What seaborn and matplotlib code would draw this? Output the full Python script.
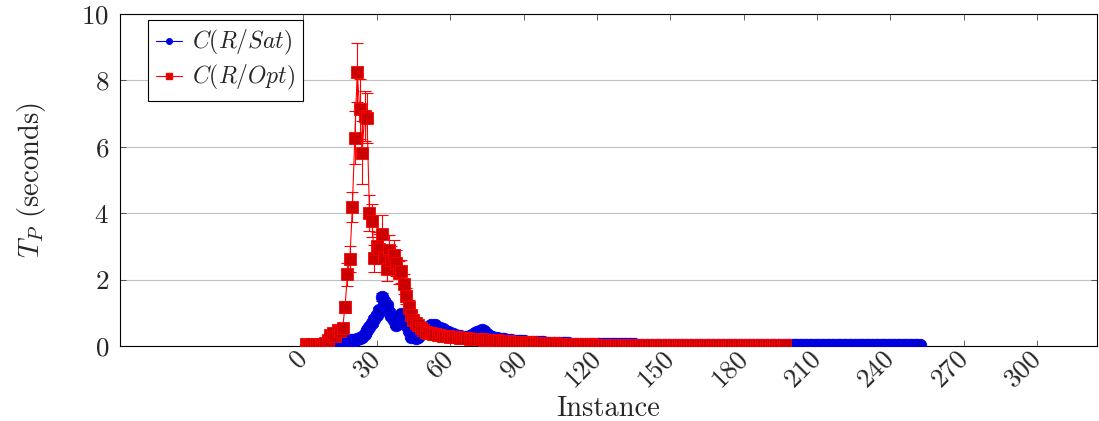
import numpy as np
import seaborn as sns
from matplotlib import pyplot as plt
from matplotlib.lines import Line2D

# T_P (seconds) per instance, C(R/Opt): instances 1..197
red_t = [
    0.05, 0.04, 0.04, 0.05, 0.04, 0.05, 0.05, 0.06, 0.10, 0.18,
    0.33, 0.40, 0.30, 0.48, 0.45, 0.53, 1.18, 2.16, 2.62, 4.18,
    6.27, 8.24, 7.14, 5.83, 6.93, 6.86, 4.01, 3.77, 2.64, 3.00,
    2.92, 3.39, 2.64, 2.31, 2.89, 2.60, 2.74, 2.50, 2.21, 2.25,
    1.86, 1.51, 1.18, 0.93, 0.78, 0.70, 0.63, 0.55, 0.48, 0.43,
    0.40, 0.38, 0.36, 0.35, 0.33, 0.32, 0.31, 0.30, 0.29, 0.28,
    0.27, 0.26, 0.26, 0.25, 0.24, 0.24, 0.23, 0.22, 0.22, 0.21,
    0.21, 0.20, 0.20, 0.19, 0.19, 0.18, 0.18, 0.17, 0.17, 0.16,
    0.15, 0.15, 0.14, 0.14, 0.13, 0.13, 0.13, 0.12, 0.12, 0.12,
    0.11, 0.11, 0.11, 0.10, 0.10, 0.10, 0.09, 0.09, 0.09, 0.08,
    0.08, 0.08, 0.08, 0.07, 0.07, 0.07, 0.07, 0.06, 0.06, 0.06,
    0.06, 0.06, 0.05, 0.05, 0.05, 0.05, 0.05, 0.05, 0.04, 0.04,
    0.04, 0.04, 0.04, 0.04, 0.04, 0.04, 0.04, 0.04, 0.04, 0.04,
    0.04, 0.04, 0.04, 0.03, 0.03, 0.03, 0.03, 0.03, 0.03, 0.03,
    0.03, 0.03, 0.03, 0.03, 0.03, 0.03, 0.03, 0.03, 0.03, 0.03,
    0.03, 0.03, 0.03, 0.03, 0.03, 0.03, 0.03, 0.03, 0.03, 0.03,
    0.03, 0.03, 0.03, 0.03, 0.03, 0.02, 0.02, 0.02, 0.02, 0.02,
    0.02, 0.02, 0.02, 0.02, 0.02, 0.02, 0.02, 0.02, 0.02, 0.02,
    0.02, 0.02, 0.02, 0.02, 0.02, 0.02, 0.02, 0.02, 0.02, 0.02,
    0.02, 0.02, 0.02, 0.02, 0.02, 0.02, 0.02,
]
red_err = [
    0.01, 0.01, 0.01, 0.01, 0.01, 0.01, 0.01, 0.02, 0.03, 0.04,
    0.06, 0.07, 0.06, 0.08, 0.08, 0.09, 0.18, 0.35, 0.40, 0.45,
    0.80, 0.90, 0.90, 0.95, 0.75, 0.75, 0.55, 0.50, 0.40, 0.45,
    0.45, 0.55, 0.40, 0.35, 0.45, 0.40, 0.45, 0.40, 0.35, 0.35,
    0.30, 0.25, 0.20, 0.15, 0.12, 0.10, 0.09, 0.08, 0.07, 0.06,
    0.05, 0.05, 0.05, 0.04, 0.04, 0.04, 0.04, 0.04, 0.03, 0.03,
    0.03, 0.03, 0.03, 0.03, 0.03, 0.03, 0.03, 0.03, 0.02, 0.02,
    0.02, 0.02, 0.02, 0.02, 0.02, 0.02, 0.02, 0.02, 0.02, 0.02,
    0.02, 0.02, 0.02, 0.02, 0.02, 0.02, 0.02, 0.02, 0.02, 0.02,
    0.01, 0.01, 0.01, 0.01, 0.01, 0.01, 0.01, 0.01, 0.01, 0.01,
    0.01, 0.01, 0.01, 0.01, 0.01, 0.01, 0.01, 0.01, 0.01, 0.01,
    0.01, 0.01, 0.01, 0.01, 0.01, 0.01, 0.01, 0.01, 0.01, 0.01,
    0.01, 0.01, 0.01, 0.01, 0.01, 0.01, 0.01, 0.01, 0.01, 0.01,
    0.01, 0.01, 0.01, 0.01, 0.01, 0.01, 0.01, 0.01, 0.01, 0.01,
    0.01, 0.01, 0.01, 0.01, 0.01, 0.01, 0.01, 0.01, 0.01, 0.01,
    0.01, 0.01, 0.01, 0.01, 0.01, 0.01, 0.01, 0.01, 0.01, 0.01,
    0.01, 0.01, 0.01, 0.01, 0.01, 0.01, 0.01, 0.01, 0.01, 0.01,
    0.01, 0.01, 0.01, 0.01, 0.01, 0.01, 0.01, 0.01, 0.01, 0.01,
    0.01, 0.01, 0.01, 0.01, 0.01, 0.01, 0.01, 0.01, 0.01, 0.01,
    0.01, 0.01, 0.01, 0.01, 0.01, 0.01, 0.01,
]

# T_P (seconds) per instance, C(R/Sat): instances 1..252
blue_t = [
    0.02, 0.02, 0.03, 0.03, 0.03, 0.04, 0.04, 0.05, 0.06, 0.07,
    0.08, 0.10, 0.13, 0.12, 0.14, 0.15, 0.16, 0.18, 0.17, 0.18,
    0.18, 0.20, 0.24, 0.28, 0.35, 0.48, 0.58, 0.68, 0.83, 0.95,
    1.08, 1.49, 1.35, 1.23, 1.03, 0.90, 0.78, 0.63, 0.88, 0.98,
    0.78, 0.62, 0.45, 0.28, 0.30, 0.25, 0.28, 0.35, 0.45, 0.52,
    0.58, 0.63, 0.60, 0.63, 0.55, 0.53, 0.50, 0.45, 0.43, 0.38,
    0.35, 0.33, 0.30, 0.30, 0.28, 0.27, 0.27, 0.30, 0.33, 0.38,
    0.42, 0.46, 0.48, 0.45, 0.35, 0.30, 0.27, 0.25, 0.24, 0.22,
    0.21, 0.20, 0.19, 0.18, 0.17, 0.16, 0.16, 0.15, 0.14, 0.14,
    0.13, 0.13, 0.12, 0.12, 0.12, 0.11, 0.11, 0.11, 0.10, 0.10,
    0.10, 0.09, 0.09, 0.09, 0.08, 0.08, 0.08, 0.08, 0.07, 0.07,
    0.07, 0.07, 0.07, 0.06, 0.06, 0.06, 0.06, 0.06, 0.06, 0.05,
    0.05, 0.05, 0.05, 0.05, 0.05, 0.05, 0.05, 0.05, 0.05, 0.05,
    0.05, 0.05, 0.05, 0.05, 0.05, 0.04, 0.04, 0.04, 0.04, 0.04,
    0.04, 0.04, 0.04, 0.04, 0.04, 0.04, 0.04, 0.04, 0.04, 0.04,
    0.04, 0.04, 0.04, 0.04, 0.04, 0.04, 0.04, 0.04, 0.04, 0.04,
    0.04, 0.04, 0.04, 0.04, 0.04, 0.03, 0.03, 0.03, 0.03, 0.03,
    0.03, 0.03, 0.03, 0.03, 0.03, 0.03, 0.03, 0.03, 0.03, 0.03,
    0.03, 0.03, 0.03, 0.03, 0.03, 0.03, 0.03, 0.03, 0.03, 0.03,
    0.03, 0.03, 0.03, 0.03, 0.03, 0.03, 0.03, 0.03, 0.03, 0.03,
    0.03, 0.03, 0.03, 0.03, 0.03, 0.03, 0.03, 0.03, 0.03, 0.03,
    0.03, 0.03, 0.03, 0.03, 0.03, 0.03, 0.03, 0.03, 0.03, 0.03,
    0.02, 0.02, 0.02, 0.02, 0.02, 0.02, 0.02, 0.02, 0.02, 0.02,
    0.02, 0.02, 0.02, 0.02, 0.02, 0.02, 0.02, 0.02, 0.02, 0.02,
    0.02, 0.02, 0.02, 0.02, 0.02, 0.02, 0.02, 0.02, 0.02, 0.02,
    0.02, 0.02,
]
blue_err = [
    0.01, 0.01, 0.01, 0.01, 0.01, 0.01, 0.01, 0.01, 0.01, 0.01,
    0.01, 0.01, 0.02, 0.02, 0.02, 0.02, 0.02, 0.03, 0.03, 0.03,
    0.03, 0.03, 0.04, 0.04, 0.05, 0.06, 0.06, 0.07, 0.08, 0.08,
    0.09, 0.12, 0.10, 0.10, 0.09, 0.08, 0.07, 0.06, 0.08, 0.08,
    0.07, 0.06, 0.05, 0.04, 0.04, 0.04, 0.04, 0.04, 0.05, 0.05,
    0.05, 0.06, 0.05, 0.05, 0.05, 0.05, 0.04, 0.04, 0.04, 0.04,
    0.04, 0.03, 0.03, 0.03, 0.03, 0.03, 0.03, 0.03, 0.03, 0.04,
    0.04, 0.05, 0.05, 0.04, 0.04, 0.03, 0.03, 0.02, 0.02, 0.02,
    0.02, 0.02, 0.02, 0.02, 0.02, 0.02, 0.02, 0.02, 0.02, 0.02,
    0.01, 0.01, 0.01, 0.01, 0.01, 0.01, 0.01, 0.01, 0.01, 0.01,
    0.01, 0.01, 0.01, 0.01, 0.01, 0.01, 0.01, 0.01, 0.01, 0.01,
    0.01, 0.01, 0.01, 0.01, 0.01, 0.01, 0.01, 0.01, 0.01, 0.01,
    0.01, 0.01, 0.01, 0.01, 0.01, 0.01, 0.01, 0.01, 0.01, 0.01,
    0.01, 0.01, 0.01, 0.01, 0.01, 0.01, 0.01, 0.01, 0.01, 0.01,
    0.01, 0.01, 0.01, 0.01, 0.01, 0.01, 0.01, 0.01, 0.01, 0.01,
    0.01, 0.01, 0.01, 0.01, 0.01, 0.01, 0.01, 0.01, 0.01, 0.01,
    0.01, 0.01, 0.01, 0.01, 0.01, 0.01, 0.01, 0.01, 0.01, 0.01,
    0.01, 0.01, 0.01, 0.01, 0.01, 0.01, 0.01, 0.01, 0.01, 0.01,
    0.01, 0.01, 0.01, 0.01, 0.01, 0.01, 0.01, 0.01, 0.01, 0.01,
    0.01, 0.01, 0.01, 0.01, 0.01, 0.01, 0.01, 0.01, 0.01, 0.01,
    0.01, 0.01, 0.01, 0.01, 0.01, 0.01, 0.01, 0.01, 0.01, 0.01,
    0.01, 0.01, 0.01, 0.01, 0.01, 0.01, 0.01, 0.01, 0.01, 0.01,
    0.01, 0.01, 0.01, 0.01, 0.01, 0.01, 0.01, 0.01, 0.01, 0.01,
    0.01, 0.01, 0.01, 0.01, 0.01, 0.01, 0.01, 0.01, 0.01, 0.01,
    0.01, 0.01, 0.01, 0.01, 0.01, 0.01, 0.01, 0.01, 0.01, 0.01,
    0.01, 0.01,
]

x_ticks = [0, 30, 60, 90, 120, 150, 180, 210, 240, 270, 300]
y_ticks = [0, 2, 4, 6, 8, 10]
labels = [r'$C(R/Sat)$', r'$C(R/Opt)$']

red_x = np.arange(1, len(red_t) + 1)
blue_x = np.arange(1, len(blue_t) + 1)

sns.set_style('ticks')
plt.rcParams['font.family'] = 'cmr10'
plt.rcParams['mathtext.fontset'] = 'cm'
plt.rcParams['axes.formatter.use_mathtext'] = True

fig = plt.figure(figsize=(10.99, 4.21), dpi=100)
ax = fig.add_axes([0.1092, 0.178, 0.889, 0.7886])

blue_face = (0, 0, 0.8)
red_face = (0.8, 0, 0)

ax.errorbar(blue_x, blue_t, yerr=blue_err, fmt='none', ecolor='blue',
            elinewidth=0.8, capsize=4, capthick=0.8, zorder=2)
sns.lineplot(x=blue_x, y=blue_t, ax=ax, color='blue', linewidth=0.8,
             marker='o', markersize=9, markerfacecolor=blue_face,
             markeredgecolor='blue', markeredgewidth=0.6, zorder=3)
ax.errorbar(red_x, red_t, yerr=red_err, fmt='none', ecolor='red',
            elinewidth=0.8, capsize=4, capthick=0.8, zorder=4)
sns.lineplot(x=red_x, y=red_t, ax=ax, color='red', linewidth=0.8,
             marker='s', markersize=8, markerfacecolor=red_face,
             markeredgecolor='red', markeredgewidth=0.6, zorder=5)

ax.set_xlim(-75, 324.5)
ax.set_ylim(0, 10)
ax.set_xticks(x_ticks)
ax.set_yticks(y_ticks)
ax.set_xticklabels([str(t) for t in x_ticks], rotation=45, ha='right',
                   va='center', rotation_mode='anchor')
ax.tick_params(axis='both', direction='in', top=True, right=True,
               length=4, width=0.5, labelsize=19.5)
ax.tick_params(axis='x', pad=6)
ax.tick_params(axis='y', pad=8)
ax.yaxis.grid(True, color='#c0c0c0', linewidth=0.8)
ax.set_axisbelow(True)
for s in ax.spines.values():
    s.set_linewidth(0.8)
    s.set_color('black')

ax.set_xlabel('Instance', fontsize=20.5, labelpad=3)
ax.set_ylabel(r'$T_P$ (seconds)', fontsize=20.5, labelpad=24)

handles = [
    Line2D([0], [0], color='blue', lw=0.8, marker='o', markersize=4,
           markerfacecolor=blue_face, markeredgecolor='blue'),
    Line2D([0], [0], color='red', lw=0.8, marker='s', markersize=4,
           markerfacecolor=red_face, markeredgecolor='red'),
]
ax.legend(handles, labels, loc='upper left', bbox_to_anchor=(0.0287, 0.982),
          borderaxespad=0, frameon=True, fancybox=False, framealpha=1,
          edgecolor='black', fontsize=17, handlelength=1.1,
          handletextpad=0.4, borderpad=0.35, labelspacing=0.25)
ax.get_legend().get_frame().set_linewidth(0.8)

fig.savefig('out.png', dpi=100)
